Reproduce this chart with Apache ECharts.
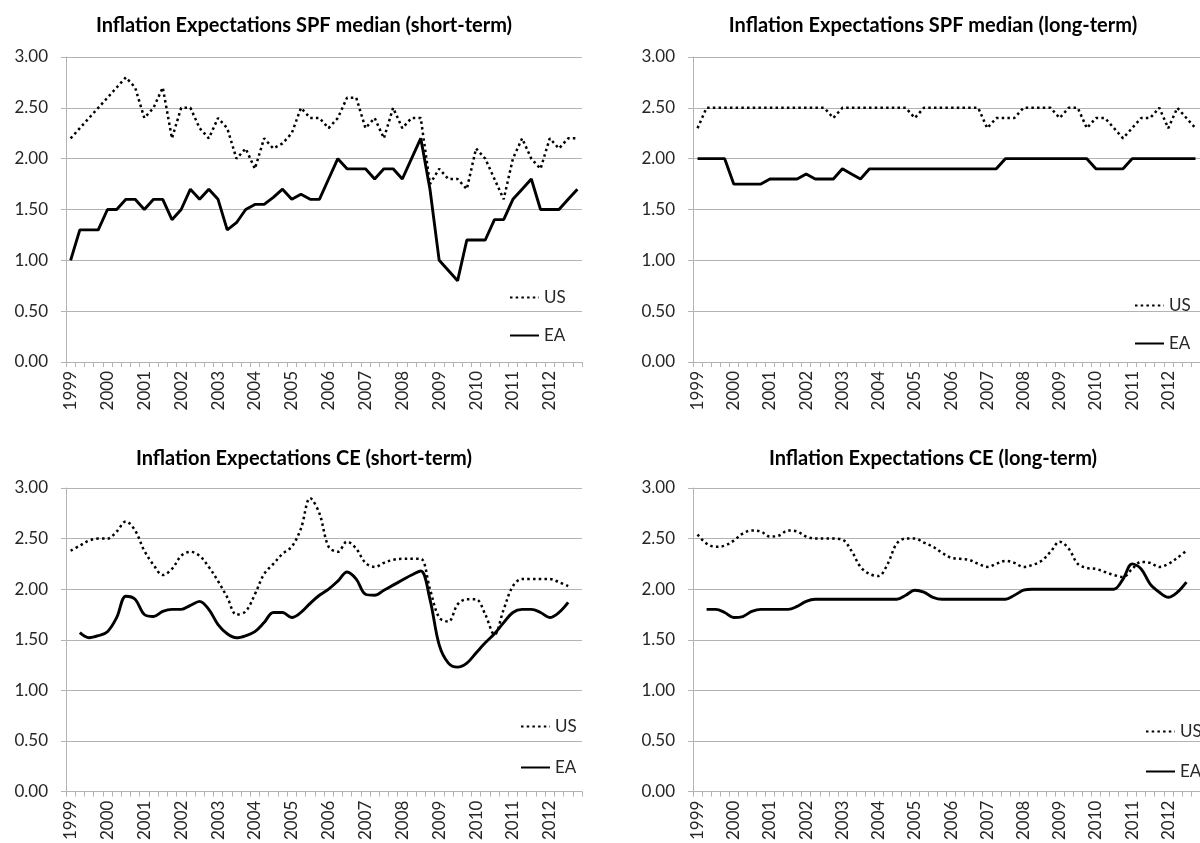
<!DOCTYPE html>
<html><head><meta charset="utf-8">
<script src="https://cdn.jsdelivr.net/npm/echarts@6/dist/echarts.min.js"></script>
<style>html,body{margin:0;padding:0;background:#fff}#c{width:1200px;height:843px}</style>
</head><body><div id="c"></div>
<script>
const years = ['1999','2000','2001','2002','2003','2004','2005','2006','2007','2008','2009','2010','2011','2012'];
const quarters = [];
years.forEach(function(y){ for (let q = 1; q <= 4; q++) quarters.push(y + 'Q' + q); });

const titles = [
  'Inflation Expectations SPF median (short-term)',
  'Inflation Expectations SPF median (long-term)',
  'Inflation Expectations CE (short-term)',
  'Inflation Expectations CE (long-term)'
];
const seriesNames = ['US', 'EA'];

const spfShortUS = [2.2,2.3,2.4,2.5,2.6,2.7,2.8,2.7,2.4,2.5,2.7,2.2,2.5,2.5,2.3,2.2,2.4,2.3,2.0,2.1,1.9,2.2,2.1,2.15,2.25,2.5,2.4,2.4,2.3,2.4,2.6,2.6,2.3,2.4,2.2,2.5,2.3,2.4,2.4,1.75,1.9,1.8,1.8,1.7,2.1,2.0,1.8,1.6,2.0,2.2,2.0,1.9,2.2,2.1,2.2,2.2];
const spfShortEA = [1.0,1.3,1.3,1.3,1.5,1.5,1.6,1.6,1.5,1.6,1.6,1.4,1.5,1.7,1.6,1.7,1.6,1.3,1.37,1.5,1.55,1.55,1.62,1.7,1.6,1.65,1.6,1.6,1.8,2.0,1.9,1.9,1.9,1.8,1.9,1.9,1.8,2.0,2.2,1.7,1.0,0.9,0.8,1.2,1.2,1.2,1.4,1.4,1.6,1.7,1.8,1.5,1.5,1.5,1.6,1.7];

const spfLongUS = [2.3,2.5,2.5,2.5,2.5,2.5,2.5,2.5,2.5,2.5,2.5,2.5,2.5,2.5,2.5,2.4,2.5,2.5,2.5,2.5,2.5,2.5,2.5,2.5,2.4,2.5,2.5,2.5,2.5,2.5,2.5,2.5,2.3,2.4,2.4,2.4,2.5,2.5,2.5,2.5,2.4,2.5,2.5,2.3,2.4,2.4,2.3,2.2,2.3,2.4,2.4,2.5,2.3,2.5,2.4,2.3];
const spfLongEA = [2.0,2.0,2.0,2.0,1.75,1.75,1.75,1.75,1.8,1.8,1.8,1.8,1.85,1.8,1.8,1.8,1.9,1.85,1.8,1.9,1.9,1.9,1.9,1.9,1.9,1.9,1.9,1.9,1.9,1.9,1.9,1.9,1.9,1.9,2.0,2.0,2.0,2.0,2.0,2.0,2.0,2.0,2.0,2.0,1.9,1.9,1.9,1.9,2.0,2.0,2.0,2.0,2.0,2.0,2.0,2.0];

const ceShortUS = [2.38,2.43,2.48,2.50,2.50,2.57,2.67,2.58,2.38,2.24,2.14,2.20,2.33,2.37,2.33,2.22,2.08,1.92,1.75,1.78,1.95,2.15,2.25,2.35,2.42,2.60,2.90,2.75,2.42,2.37,2.47,2.40,2.26,2.22,2.26,2.29,2.30,2.30,2.30,2.00,1.72,1.68,1.85,1.90,1.90,1.75,1.55,1.80,2.03,2.10,2.10,2.10,2.10,2.07,2.03,null];
const ceShortEA = [null,1.57,1.52,1.54,1.58,1.72,1.93,1.90,1.75,1.73,1.78,1.80,1.80,1.84,1.88,1.80,1.65,1.56,1.52,1.54,1.58,1.67,1.77,1.77,1.72,1.77,1.86,1.94,2.00,2.08,2.17,2.10,1.95,1.94,1.99,2.04,2.09,2.14,2.18,1.90,1.45,1.27,1.23,1.27,1.37,1.47,1.56,1.67,1.77,1.80,1.80,1.77,1.72,1.77,1.87,null];

const ceLongUS = [2.54,2.45,2.42,2.43,2.48,2.55,2.58,2.57,2.52,2.53,2.58,2.57,2.52,2.50,2.50,2.50,2.49,2.38,2.22,2.15,2.13,2.25,2.45,2.50,2.50,2.46,2.42,2.36,2.31,2.30,2.29,2.25,2.22,2.25,2.28,2.26,2.22,2.24,2.28,2.37,2.47,2.40,2.25,2.21,2.20,2.17,2.14,2.12,2.20,2.27,2.26,2.22,2.25,2.31,2.38,null];
const ceLongEA = [null,1.80,1.80,1.77,1.72,1.73,1.78,1.80,1.80,1.80,1.80,1.83,1.88,1.90,1.90,1.90,1.90,1.90,1.90,1.90,1.90,1.90,1.90,1.94,1.99,1.97,1.92,1.90,1.90,1.90,1.90,1.90,1.90,1.90,1.90,1.94,1.99,2.00,2.00,2.00,2.00,2.00,2.00,2.00,2.00,2.00,2.00,2.10,2.25,2.20,2.05,1.97,1.92,1.97,2.07,null];

const panels = [
  {us: spfShortUS, ea: spfShortEA, smooth: false},
  {us: spfLongUS, ea: spfLongEA, smooth: false},
  {us: ceShortUS, ea: ceShortEA, smooth: 0.35},
  {us: ceLongUS, ea: ceLongEA, smooth: 0.35}
];

const FONT = 'Lato';
const gridColor = '#b3b3b3';
const textColor = '#262626';

const grids = [
  {left: 66, top: 57, width: 516, height: 305},
  {left: 693, top: 57, width: 516, height: 305},
  {left: 66, top: 488, width: 516, height: 306},
  {left: 693, top: 488, width: 516, height: 306}
];
const titlePos = [{x: 299, y: 11}, {x: 928, y: 11}, {x: 299, y: 444}, {x: 928, y: 444}];
const legendPos = [{x: 504, y: 284, gap: 21}, {x: 1129, y: 292, gap: 21}, {x: 515, y: 713, gap: 24}, {x: 1140, y: 718, gap: 23}];

const option = {
  backgroundColor: '#fff',
  animation: false,
  title: titles.map(function(t, i){
    return {text: t, left: titlePos[i].x, top: titlePos[i].y, textAlign: 'center',
      textStyle: {fontFamily: FONT, fontWeight: 'bold', fontSize: 20, color: '#000'}};
  }),
  grid: grids.map(function(g){ return Object.assign({containLabel: false}, g); }),
  legend: legendPos.map(function(p){
    return {data: seriesNames, left: p.x, top: p.y, orient: 'vertical', itemWidth: 29, itemHeight: 14,
      itemGap: p.gap, selectedMode: false, itemStyle: {opacity: 0},
      textStyle: {fontFamily: FONT, fontSize: 17, color: textColor}};
  }),
  xAxis: grids.map(function(g, i){
    return {type: 'category', gridIndex: i, data: quarters, boundaryGap: true,
      axisLine: {lineStyle: {color: gridColor, width: 1}},
      axisTick: {show: true, interval: 0, length: 5, lineStyle: {color: gridColor}},
      axisLabel: {interval: 3, rotate: 90, margin: 9, fontFamily: FONT, fontSize: 17, color: textColor,
        formatter: function(v){ return v.slice(0, 4); }},
      splitLine: {show: false}};
  }),
  yAxis: grids.map(function(g, i){
    return {type: 'value', gridIndex: i, min: 0, max: 3, interval: 0.5,
      axisLine: {show: true, lineStyle: {color: gridColor, width: 1}},
      axisTick: {show: true, length: 5, lineStyle: {color: gridColor}},
      axisLabel: {margin: 18, fontFamily: FONT, fontSize: 17, color: textColor,
        formatter: function(v){ return v.toFixed(2); }},
      splitLine: {show: true, lineStyle: {color: gridColor, width: 1}}};
  }),
  series: []
};

panels.forEach(function(p, i){
  option.series.push({name: 'US', type: 'line', xAxisIndex: i, yAxisIndex: i, data: p.us,
    symbol: 'none', smooth: p.smooth, connectNulls: false,
    lineStyle: {color: '#000', width: 2.5, type: [2.5, 3.2]}, itemStyle: {color: '#000'}});
  option.series.push({name: 'EA', type: 'line', xAxisIndex: i, yAxisIndex: i, data: p.ea,
    symbol: 'none', smooth: p.smooth, connectNulls: false,
    lineStyle: {color: '#000', width: 2.9, type: 'solid'}, itemStyle: {color: '#000'}});
});

const chart = echarts.init(document.getElementById('c'), null, {renderer: 'canvas'});
chart.setOption(option);
</script>
</body></html>
